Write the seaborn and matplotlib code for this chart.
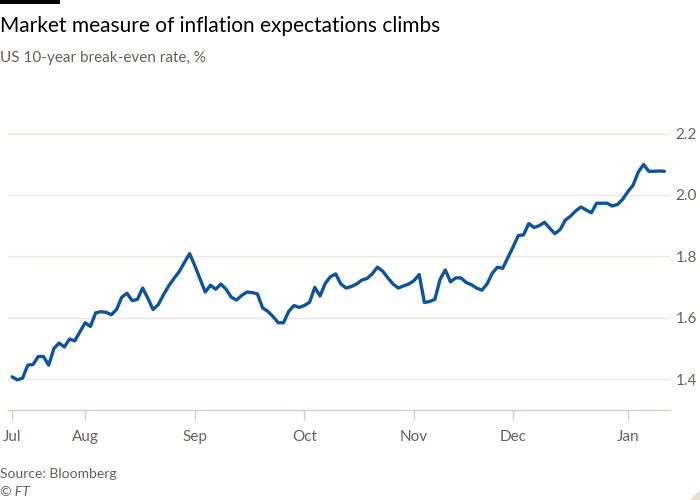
#!/usr/bin/env python3
"""US 10-year break-even rate, FT style line chart."""

import matplotlib
matplotlib.use("Agg")
import matplotlib.pyplot as plt
from matplotlib.patches import Polygon, Rectangle
import numpy as np
import pandas as pd
import seaborn as sns

# trading days (bond market holidays removed)
START = "2020-07-14"
END = "2021-01-13"
HOLIDAYS = ["2020-09-07", "2020-10-12", "2020-11-11", "2020-11-26", "2020-12-25", "2021-01-01"]

breakeven = [
    1.408, 1.398, 1.404, 1.446, 1.448, 1.474, 1.474, 1.446, 1.500, 1.518,
    1.505, 1.531, 1.525, 1.555, 1.584, 1.572, 1.616, 1.620, 1.618, 1.610,
    1.627, 1.667, 1.680, 1.656, 1.660, 1.697, 1.664, 1.627, 1.643, 1.675,
    1.704, 1.728, 1.750, 1.780, 1.809, 1.770, 1.727, 1.684, 1.706, 1.693,
    1.710, 1.693, 1.667, 1.658, 1.673, 1.684, 1.682, 1.678, 1.632, 1.621,
    1.604, 1.584, 1.584, 1.621, 1.640, 1.634, 1.640, 1.651, 1.699, 1.671,
    1.712, 1.734, 1.743, 1.710, 1.697, 1.702, 1.710, 1.723, 1.728, 1.743,
    1.765, 1.752, 1.730, 1.710, 1.697, 1.704, 1.710, 1.721, 1.741, 1.650,
    1.653, 1.660, 1.725, 1.756, 1.717, 1.730, 1.730, 1.715, 1.708, 1.697,
    1.690, 1.710, 1.745, 1.765, 1.761, 1.796, 1.831, 1.868, 1.870, 1.907,
    1.894, 1.900, 1.911, 1.892, 1.874, 1.887, 1.918, 1.931, 1.948, 1.961,
    1.951, 1.942, 1.973, 1.973, 1.973, 1.964, 1.969, 1.986, 2.011, 2.032,
    2.075, 2.099, 2.077, 2.077, 2.078, 2.077,
]

y_ticks = [1.4, 1.6, 1.8, 2.0, 2.2]

TITLE = "Market measure of inflation expectations climbs"
SUBTITLE = "US 10-year break-even rate, %"
SOURCE = "Source: Bloomberg"
CREDIT = "© FT"

BLUE = "#0f5499"
GRID = "#ece6e0"
AXIS = "#d8cdc3"
GREY = "#66605c"

dates = pd.bdate_range(START, END, freq="C", holidays=HOLIDAYS)
df = pd.DataFrame({"date": dates, "rate": breakeven})
df["day"] = np.arange(len(df))

# first trading day of each month gets a tick
month_start = df.groupby(df["date"].dt.to_period("M"))["day"].min()
x_ticks = month_start.values
x_labels = [p.strftime("%b") for p in month_start.index]

sns.set_theme(style="white")
plt.rcParams["font.family"] = ["Lato", "DejaVu Sans"]

fig = plt.figure(figsize=(7, 5), dpi=100)
fig.patch.set_facecolor("white")
ax = fig.add_axes([0.0114, 0.18, 0.946, 0.553])

for v in y_ticks:
    ax.axhline(v, color=GRID, lw=1, zorder=0)

sns.lineplot(data=df, x="day", y="rate", color=BLUE, lw=2.4, ax=ax, zorder=3)

ax.set_xlim(-0.8, 126.1)
ax.set_ylim(1.3, 2.2)
ax.set_xticks(x_ticks)
ax.set_xticklabels(x_labels)
ax.set_yticks(y_ticks)
ax.set_yticklabels([f"{v:.1f}" for v in y_ticks])
ax.yaxis.tick_right()
ax.set_xlabel("")
ax.set_ylabel("")

for side in ["top", "left", "right"]:
    ax.spines[side].set_visible(False)
ax.spines["bottom"].set_color(AXIS)
ax.spines["bottom"].set_linewidth(1)

ax.tick_params(axis="x", length=7.5, width=1, color=AXIS, pad=7, labelsize=11, labelcolor=GREY, bottom=True)
ax.tick_params(axis="y", length=0, pad=4, labelsize=11, labelcolor=GREY, right=True)

# header / footer
fig.add_artist(Rectangle((0, 1 - 4 / 500), 60 / 700, 4 / 500, transform=fig.transFigure,
                         color="black", lw=0))
fig.text(0.0, 1 - 32 / 500, TITLE, fontsize=15, color="black", va="baseline", ha="left")
fig.text(0.0, 1 - 62 / 500, SUBTITLE, fontsize=11, color=GREY, va="baseline", ha="left")
fig.text(0.0, 1 - 478 / 500, SOURCE, fontsize=10, color=GREY, va="baseline", ha="left")
fig.text(0.0, 1 - 496 / 500, CREDIT, fontsize=10, color=GREY, va="baseline", ha="left",
         style="italic")
fig.add_artist(Polygon([(690 / 700, 0), (1, 0), (1, 10 / 500)], closed=True,
                       transform=fig.transFigure, color="#e9ddd2", lw=0))

fig.savefig("out.png", dpi=100)
plt.close(fig)
